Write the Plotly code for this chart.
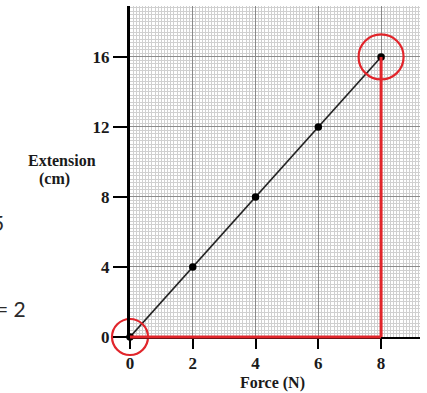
import plotly.graph_objects as go

# Measured load / extension readings
force = [0, 2, 4, 6, 8]          # N
extension = [0, 4, 8, 12, 16]    # cm

x_tick_vals = [0, 2, 4, 6, 8]
x_tick_text = ["0", "2", "4", "6", "8"]
y_tick_vals = [0, 4, 8, 12, 16]
y_tick_text = ["0", "4", "8", "12", "16"]

X_MAX = 9.24
Y_MAX = 18.91

W, H = 427, 393
L, R, T, B = 130, 7, 6, 56
PW, PH = W - L - R, H - T - B


def px(xp):
    return (xp - L) / PW


def py(yp):
    return (H - B - yp) / PH


serif = dict(family="Liberation Serif", size=17, color="#1a1a1a", weight="bold")
RED = "#e1252b"

fig = go.Figure()

# fine-grid subplot (kept invisible, only anchors the graph paper axes)
fig.add_trace(go.Scatter(x=force, y=extension, mode="markers",
                         marker=dict(opacity=0), hoverinfo="skip",
                         showlegend=False, xaxis="x", yaxis="y"))

# straight line through the readings
fig.add_trace(go.Scatter(x=[force[0], force[-1]], y=[extension[0], extension[-1]],
                         mode="lines", line=dict(color="#222222", width=1.6),
                         showlegend=False, xaxis="x2", yaxis="y2"))

# plotted readings
fig.add_trace(go.Scatter(x=force, y=extension, mode="markers",
                         marker=dict(color="black", size=7.5),
                         cliponaxis=False, showlegend=False,
                         xaxis="x2", yaxis="y2"))

# red rings around the first and last readings
fig.add_trace(go.Scatter(x=[force[0]], y=[extension[0]], mode="markers",
                         marker=dict(symbol="circle-open", size=36, color=RED,
                                     line=dict(color=RED, width=2.2)),
                         cliponaxis=False, showlegend=False,
                         xaxis="x2", yaxis="y2"))
fig.add_trace(go.Scatter(x=[force[-1]], y=[extension[-1]], mode="markers",
                         marker=dict(symbol="circle-open", size=45, color=RED,
                                     line=dict(color=RED, width=2.2)),
                         cliponaxis=False, showlegend=False,
                         xaxis="x2", yaxis="y2"))

# red run (along the baseline) and rise for the gradient
fig.add_shape(type="line", xref="x2", yref="paper",
              x0=force[0], x1=force[-1], y0=0, y1=0,
              line=dict(color=RED, width=3), layer="above")
fig.add_shape(type="line", xref="x2", yref="y2",
              x0=force[-1], x1=force[-1], y0=extension[0], y1=extension[-1],
              line=dict(color=RED, width=3), layer="above")

light = "#d0d0d0"
dark = "#8a8a8a"

fig.update_layout(
    width=W, height=H,
    margin=dict(l=L, r=R, t=T, b=B, pad=0),
    paper_bgcolor="white", plot_bgcolor="white",
    showlegend=False,
    xaxis=dict(range=[0, X_MAX], tickmode="linear", tick0=0, dtick=0.1,
               showgrid=True, gridcolor=light, gridwidth=1,
               showticklabels=False, ticks="", zeroline=False, showline=False),
    yaxis=dict(range=[0, Y_MAX], tickmode="linear", tick0=0, dtick=0.2,
               showgrid=True, gridcolor=light, gridwidth=1,
               showticklabels=False, ticks="", zeroline=False, showline=False),
    xaxis2=dict(range=[0, X_MAX], overlaying="x", anchor="y2", side="bottom",
                tickmode="array", tickvals=x_tick_vals, ticktext=x_tick_text,
                ticks="outside", ticklen=10, tickwidth=2, tickcolor="black",
                tickfont=serif,
                showgrid=True, gridcolor=dark, gridwidth=1,
                minor=dict(tickmode="linear", tick0=0, dtick=1, showgrid=True,
                           gridcolor=dark, gridwidth=1, ticks=""),
                showline=True, linecolor="black", linewidth=2, zeroline=False),
    yaxis2=dict(range=[0, Y_MAX], overlaying="y", anchor="x2", side="left",
                tickmode="array", tickvals=y_tick_vals, ticktext=y_tick_text,
                ticks="outside", ticklen=14, tickwidth=2, tickcolor="black",
                tickfont=serif,
                showgrid=True, gridcolor=dark, gridwidth=1,
                minor=dict(tickmode="linear", tick0=0, dtick=2, showgrid=True,
                           gridcolor=dark, gridwidth=1, ticks=""),
                showline=True, linecolor="black", linewidth=3, zeroline=False),
)

title_font = dict(family="Liberation Serif", size=16, color="#1a1a1a", weight="bold")
fig.add_annotation(text="Extension", xref="paper", yref="paper",
                   x=px(61.5), y=py(160), showarrow=False, font=title_font,
                   xanchor="center", yanchor="middle")
fig.add_annotation(text="(cm)", xref="paper", yref="paper",
                   x=px(54), y=py(179), showarrow=False, font=title_font,
                   xanchor="center", yanchor="middle")
fig.add_annotation(text="Force (N)", xref="paper", yref="paper",
                   x=px(272), y=py(383), showarrow=False, font=title_font,
                   xanchor="center", yanchor="middle")

side_font = dict(family="Lato", size=21, color="#2a2a2a")
fig.add_annotation(text="5", xref="paper", yref="paper",
                   x=px(6), y=py(222), showarrow=False, font=side_font,
                   xanchor="right", yanchor="middle")
fig.add_annotation(text="= 2", xref="paper", yref="paper",
                   x=px(28), y=py(308), showarrow=False, font=side_font,
                   xanchor="right", yanchor="middle")

fig.write_html("out.html")
